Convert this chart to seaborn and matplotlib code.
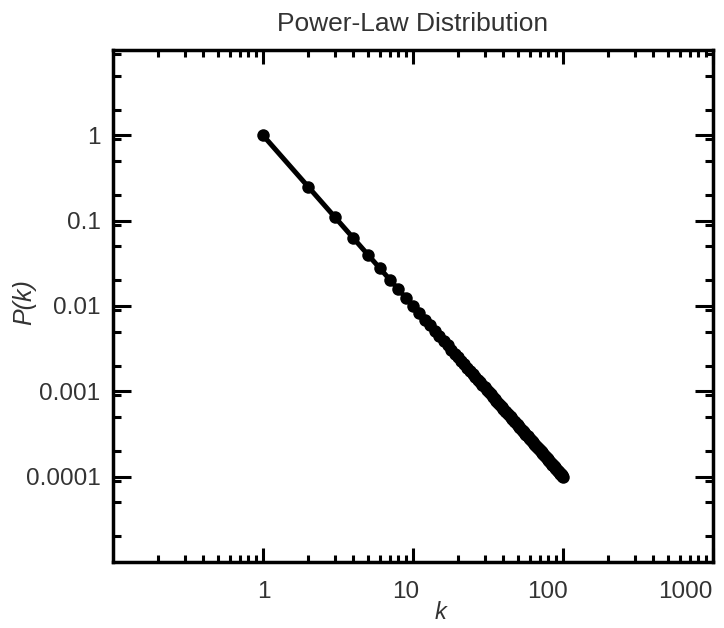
import matplotlib
matplotlib.use("Agg")
import matplotlib.pyplot as plt
import matplotlib.ticker as mticker
import matplotlib.transforms as mtransforms
import seaborn as sns
import pandas as pd

title = "Power-Law Distribution"
x_label = "k"
y_label = "P(k)"
x_tick_values = [1, 10, 100, 1000]
x_tick_labels = ["1", "10", "100", "1000"]
y_tick_values = [1, 0.1, 0.01, 0.001, 0.0001]
y_tick_labels = ["1", "0.1", "0.01", "0.001", "0.0001"]

k_values = [1, 2, 3, 4, 5, 6, 7, 8, 9, 10,
            11, 12, 13, 14, 15, 16, 17, 18, 19, 20,
            21, 22, 23, 24, 25, 26, 27, 28, 29, 30,
            31, 32, 33, 34, 35, 36, 37, 38, 39, 40,
            41, 42, 43, 44, 45, 46, 47, 48, 49, 50,
            51, 52, 53, 54, 55, 56, 57, 58, 59, 60,
            61, 62, 63, 64, 65, 66, 67, 68, 69, 70,
            71, 72, 73, 74, 75, 76, 77, 78, 79, 80,
            81, 82, 83, 84, 85, 86, 87, 88, 89, 90,
            91, 92, 93, 94, 95, 96, 97, 98, 99, 100]
p_values = [1.0, 0.25, 0.1111, 0.0625, 0.04, 0.02778, 0.02041, 0.01563, 0.01235, 0.01,
            0.008264, 0.006944, 0.005917, 0.005102, 0.004444, 0.003906, 0.00346, 0.003086, 0.00277, 0.0025,
            0.002268, 0.002066, 0.00189, 0.001736, 0.0016, 0.001479, 0.001372, 0.001276, 0.001189, 0.001111,
            0.001041, 0.0009766, 0.0009183, 0.000865, 0.0008163, 0.0007716, 0.0007305, 0.0006925, 0.0006575, 0.000625,
            0.0005949, 0.0005669, 0.0005408, 0.0005165, 0.0004938, 0.0004726, 0.0004527, 0.000434, 0.0004165, 0.0004,
            0.0003845, 0.0003698, 0.000356, 0.0003429, 0.0003306, 0.0003189, 0.0003078, 0.0002973, 0.0002873, 0.0002778,
            0.0002687, 0.0002601, 0.000252, 0.0002441, 0.0002367, 0.0002296, 0.0002228, 0.0002163, 0.00021, 0.0002041,
            0.0001984, 0.0001929, 0.0001877, 0.0001826, 0.0001778, 0.0001731, 0.0001687, 0.0001644, 0.0001602, 0.0001563,
            0.0001524, 0.0001487, 0.0001452, 0.0001417, 0.0001384, 0.0001352, 0.0001321, 0.0001291, 0.0001262, 0.0001235,
            0.0001208, 0.0001181, 0.0001156, 0.0001132, 0.0001108, 0.0001085, 0.0001063, 0.0001041, 0.000102, 0.0001]

df = pd.DataFrame({"k": k_values, "P": p_values})

sns.set_style("white")
plt.rcParams["font.family"] = ["Liberation Sans", "DejaVu Sans"]

fig = plt.figure(figsize=(7.24, 6.28), dpi=100)
ax = fig.add_axes([113 / 724, 1 - 562 / 628, (713 - 113) / 724, (562 - 50) / 628])

sns.lineplot(data=df, x="k", y="P", ax=ax, color="black", linewidth=3.6,
             marker="o", markersize=9, markeredgecolor="black", markeredgewidth=0)

ax.set_xscale("log")
ax.set_yscale("log")
ax.set_xlim(0.1, 1000)
ax.set_ylim(1e-5, 10)

ax.xaxis.set_major_locator(mticker.FixedLocator(x_tick_values))
ax.xaxis.set_minor_locator(mticker.LogLocator(base=10, subs=[2, 3, 4, 5, 6, 7, 8, 9], numticks=20))
ax.yaxis.set_major_locator(mticker.FixedLocator(y_tick_values))
ax.yaxis.set_minor_locator(mticker.LogLocator(base=10, subs=[2, 5, 9], numticks=20))
ax.set_xticklabels(x_tick_labels)
ax.set_yticklabels(y_tick_labels)
ax.xaxis.set_minor_formatter(mticker.NullFormatter())
ax.yaxis.set_minor_formatter(mticker.NullFormatter())

label_color = "#333333"
ax.tick_params(axis="both", which="both", direction="in",
               top=True, right=True, bottom=True, left=True,
               color="black", labelcolor=label_color, labelsize=17.5)
ax.tick_params(axis="x", which="major", length=10, width=2.2, pad=14)
ax.tick_params(axis="x", which="minor", length=5, width=2.2)
ax.tick_params(axis="y", which="major", length=13, width=2.2, pad=9)
ax.tick_params(axis="y", which="minor", length=6, width=2.2)

for s in ax.spines.values():
    s.set_visible(True)
    s.set_color("black")
    s.set_linewidth(2.5)

# x labels sit just right of their ticks; keep the last one inside the figure
x_offsets_px = [8, 6, 5, 0]
for lbl, off in zip(ax.get_xticklabels(), x_offsets_px):
    lbl.set_horizontalalignment("right")
    lbl.set_transform(lbl.get_transform()
                      + mtransforms.ScaledTranslation(off / 100, 0, fig.dpi_scale_trans))

ax.set_xlabel(x_label, fontsize=17, style="italic", color=label_color)
ax.xaxis.set_label_coords((441 - 113) / 600, -(601 - 562) / 512)
ax.set_ylabel(y_label, fontsize=18, style="italic", color=label_color)
ax.yaxis.set_label_coords(-(113 - 36) / 600, (562 - 302) / 512)
ax.set_title(title, fontsize=19, color=label_color, pad=14)

fig.savefig("out.png", dpi=100, facecolor="white")
